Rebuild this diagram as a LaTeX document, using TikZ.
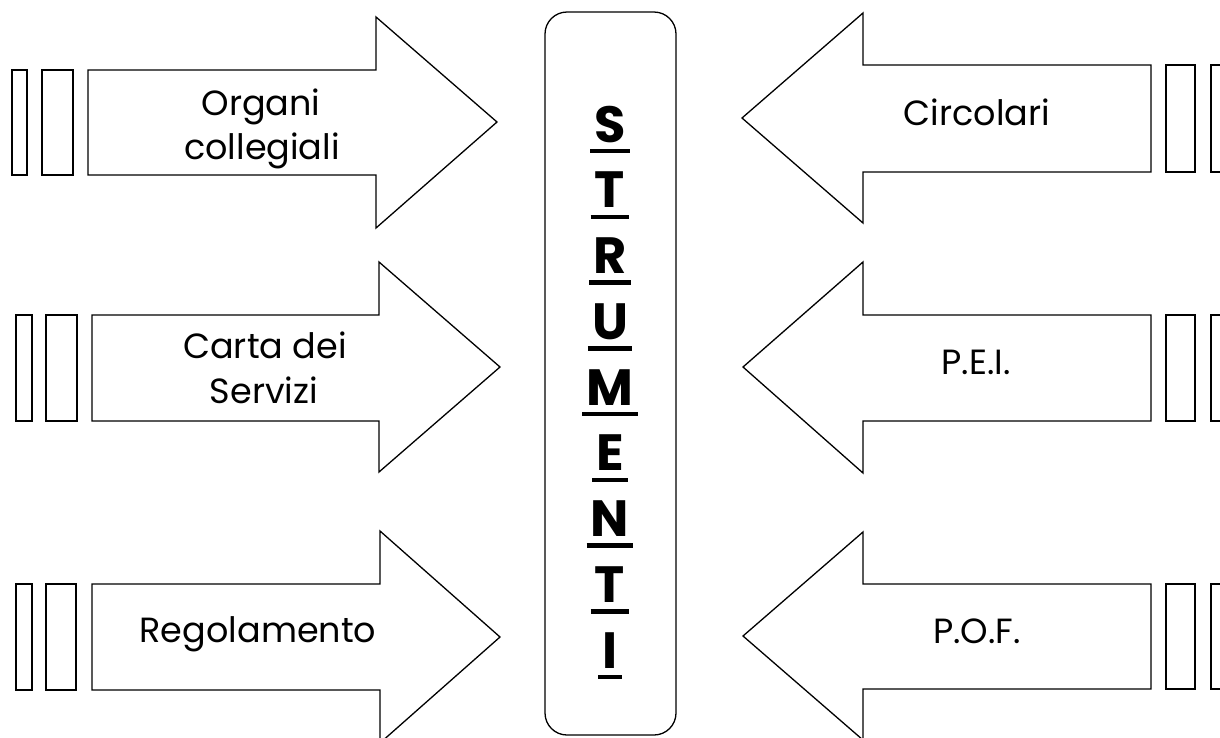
\documentclass[tikz,border=0pt]{standalone}
\usepackage{fontspec}
\setmainfont{Poppins}
\begin{document}
\begin{tikzpicture}[x=1pt,y=-1pt,
  shapeline/.style={draw=black,line width=1.3pt,line join=miter,fill=white},
  lbl/.style={anchor=base,inner sep=0pt,font=\fontsize{35}{40}\selectfont},
  letter/.style={anchor=base,inner xsep=4pt,inner ysep=0pt,font=\fontsize{51}{56}\selectfont\bfseries},
  ul/.style={line width=4.5pt}]
\useasboundingbox (0,0) rectangle (1220,737);
\clip (0,0) rectangle (1220,737);
% left arrows
\draw[shapeline] (12,70) rectangle (27,175);
\draw[shapeline] (42,70) rectangle (73,175);
\draw[shapeline] (88,70) -- (376,70) -- (376,17) -- (497,122) -- (376,228) -- (376,175) -- (88,175) -- cycle;
\draw[shapeline] (16,315) rectangle (32,421);
\draw[shapeline] (46,315) rectangle (77,421);
\draw[shapeline] (92,315) -- (379,315) -- (379,262) -- (500,367) -- (379,472) -- (379,421) -- (92,421) -- cycle;
\draw[shapeline] (16,584) rectangle (32,690);
\draw[shapeline] (46,584) rectangle (76,690);
\draw[shapeline] (92,584) -- (380,584) -- (380,531) -- (500,637) -- (380,743) -- (380,690) -- (92,690) -- cycle;
% right arrows
\draw[shapeline] (1166,65) rectangle (1195,172);
\draw[shapeline] (1211,65) rectangle (1226,172);
\draw[shapeline] (1151,65) -- (863,65) -- (863,13) -- (742,118) -- (863,223) -- (863,172) -- (1151,172) -- cycle;
\draw[shapeline] (1166,315) rectangle (1195,421);
\draw[shapeline] (1211,315) rectangle (1226,421);
\draw[shapeline] (1151,315) -- (863,315) -- (863,262) -- (743,367) -- (863,473) -- (863,421) -- (1151,421) -- cycle;
\draw[shapeline] (1166,584) rectangle (1195,689);
\draw[shapeline] (1211,584) rectangle (1226,689);
\draw[shapeline] (1151,584) -- (863,584) -- (863,532) -- (743,636) -- (863,740) -- (863,689) -- (1151,689) -- cycle;
% central box
\draw[shapeline,rounded corners=22pt] (545,12) rectangle (676,735);
% labels
\node[lbl] (o1) at (261,115) {Organi};
\node[lbl] (o2) at (262,159) {collegiali};
\node[lbl] (c1) at (265,358) {Carta dei};
\node[lbl] (c2) at (264,403) {Servizi};
\node[lbl] (reg) at (258,642) {Regolamento};
\node[lbl] (circ) at (977,125) {Circolari};
\node[lbl] (pei) at (976,374) {P.E.I.};
\node[lbl] (pof) at (977,643) {P.O.F.};
% STRUMENTI
\foreach \L [count=\i] in {S,T,R,U,M,E,N,T,I} {
  \node[letter] (s\i) at (610,{142+65.75*(\i-1)}) {\L};
  \draw[ul] ([yshift=-9pt]s\i.base west) -- ([yshift=-9pt]s\i.base east);
}
\end{tikzpicture}
\end{document}
